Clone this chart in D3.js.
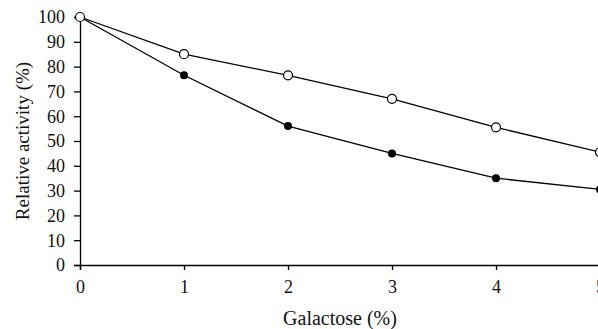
<!DOCTYPE html>
<html>
<head>
<meta charset="utf-8">
<script src="https://cdn.jsdelivr.net/npm/d3@7"></script>
<style>
  html, body { margin: 0; padding: 0; background: #fff; overflow: hidden; }
  svg { display: block; font-family: "Liberation Serif", "Times New Roman", serif; }
</style>
</head>
<body>
<div id="chart"></div>
<script>
// galactose concentration (%)
const galactose = [0, 1, 2, 3, 4, 5]
// relative activity (%), open circles
const openSeries = [100, 85, 76.5, 67, 55.5, 45.5]
// relative activity (%), filled circles
const filledSeries = [100, 76.5, 56, 45, 35, 30.5]
const yTicks = [0, 10, 20, 30, 40, 50, 60, 70, 80, 90, 100]

const width = 598
const height = 329
const margin = { top: 17, right: -2, bottom: 64, left: 80 }

const svg = d3.select('#chart').append('svg')
    .attr('width', width)
    .attr('height', height)

const x = d3.scaleLinear()
    .domain([0, 5])
    .range([margin.left, width - margin.right])
const y = d3.scaleLinear()
    .domain([0, 100])
    .range([height - margin.bottom, margin.top])

// axes
const xAxis = svg.append('g')
    .attr('transform', 'translate(0,' + y(0) + ')')
    .call(d3.axisBottom(x).tickValues(galactose).tickFormat(d3.format('d')).tickSizeOuter(0).tickSize(5))
const yAxis = svg.append('g')
    .attr('transform', 'translate(' + x(0) + ',0)')
    .call(d3.axisLeft(y).tickValues(yTicks).tickSizeOuter(0).tickSize(6).tickPadding(9))

svg.selectAll('.domain, .tick line')
    .attr('stroke', '#000')
    .attr('stroke-width', 1.3)
svg.selectAll('.tick text')
    .attr('fill', '#111')
    .style('font-size', '18px')
    .style('font-family', '"Liberation Serif", serif')
yAxis.selectAll('.tick text').attr('dy', '0.33em')
// baseline of x tick labels sits 28px under the axis
xAxis.selectAll('.tick text').attr('y', 28).attr('dy', 0)

// series lines
const line = d3.line()
    .x((d, i) => x(galactose[i]))
    .y(d => y(d))

svg.append('path')
    .datum(openSeries)
    .attr('d', line)
    .attr('fill', 'none')
    .attr('stroke', '#000')
    .attr('stroke-width', 1.3)
svg.append('path')
    .datum(filledSeries)
    .attr('d', line)
    .attr('fill', 'none')
    .attr('stroke', '#000')
    .attr('stroke-width', 1.3)

// markers
svg.append('g').selectAll('circle')
    .data(filledSeries)
    .enter()
    .append('circle')
    .attr('cx', (d, i) => x(galactose[i]))
    .attr('cy', d => y(d))
    .attr('r', 4)
    .attr('fill', '#000')
svg.append('g').selectAll('circle')
    .data(openSeries)
    .enter()
    .append('circle')
    .attr('cx', (d, i) => x(galactose[i]))
    .attr('cy', d => y(d))
    .attr('r', 4.5)
    .attr('fill', '#fff')
    .attr('stroke', '#000')
    .attr('stroke-width', 1.2)

// axis titles
svg.append('text')
    .attr('x', 340)
    .attr('y', 325)
    .attr('text-anchor', 'middle')
    .style('font-size', '20px')
    .attr('fill', '#111')
    .text('Galactose (%)')
svg.append('text')
    .attr('transform', 'translate(29,' + y(50) + ') rotate(-90)')
    .attr('text-anchor', 'middle')
    .style('font-size', '19px')
    .attr('fill', '#111')
    .text('Relative activity (%)')
</script>
</body>
</html>
